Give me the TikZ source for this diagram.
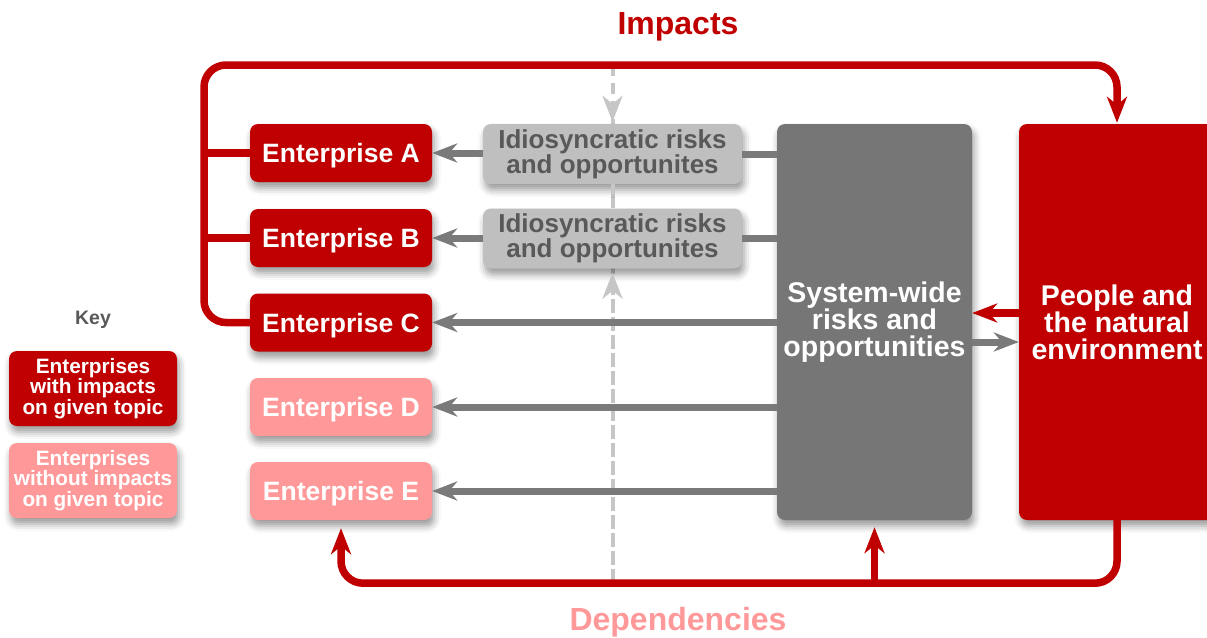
\documentclass[tikz,border=0pt]{standalone}
\usepackage{fontspec}
\setmainfont{Liberation Sans}
\usetikzlibrary{arrows.meta,shadows.blur,calc}
\definecolor{dred}{HTML}{C00000}
\definecolor{pinkc}{HTML}{FF9999}
\definecolor{sysgray}{HTML}{767676}
\definecolor{idgray}{HTML}{BFBFBF}
\definecolor{idtext}{HTML}{595959}
\definecolor{arrgray}{HTML}{7A7A7A}
\definecolor{dashgray}{HTML}{C6C6C6}
\begin{document}
\begin{tikzpicture}[x=1pt,y=-1pt,
  box/.style={rounded corners=8pt, inner sep=0pt, align=center, text=white,
    font=\bfseries\fontsize{28.5}{26.5}\selectfont,
    blur shadow={shadow xshift=2pt, shadow yshift=-6pt, shadow blur radius=7pt, shadow opacity=40}},
  ent/.style={box, minimum width=182pt, minimum height=58pt, text height=19pt, text depth=0pt,
    font=\bfseries\fontsize{26.5}{25}\selectfont},
  idio/.style={box, fill=idgray, text=idtext, minimum width=259pt, minimum height=60pt,
    font=\bfseries\fontsize{26}{25}\selectfont},
  keybox/.style={box, minimum width=168pt, minimum height=75pt, font=\bfseries\fontsize{20.8}{17.5}\selectfont},
  tipr/.style={-{Stealth[length=25pt,width=19pt,inset=8pt]}},
  tipd/.style={-{Stealth[length=26pt,width=20pt,inset=8pt]}},
  rline/.style={draw=dred, line width=7.5pt},
  gline/.style={draw=arrgray, line width=7pt},
  dline/.style={draw=dashgray, line width=4pt, dash pattern=on 11pt off 7pt},
]
\useasboundingbox (0,0) rectangle (1207,637);

% titles and key
\node[font=\bfseries\fontsize{32}{32}\selectfont, text=dred] (imp) at (678,27) {Impacts};
\node[font=\bfseries\fontsize{32}{32}\selectfont, text=pinkc] (dep) at (678,622) {Dependencies};
\node[font=\bfseries\fontsize{19.5}{19.5}\selectfont, text=idtext] (key) at (93,320) {Key};
\node[keybox, fill=dred] (k1) at (93,388.5) {Enterprises\\with impacts\\on given topic};
\node[keybox, fill=pinkc] (k2) at (93,480.5) {Enterprises\\without impacts\\on given topic};

% helper coordinates for the loop lines
\coordinate (tl) at (204,65);
\coordinate (bl) at (0,583);

% dashed separator (drawn under the boxes)
\draw[dline] (612.5,65) -- (612.5,583);

% main boxes
\node[ent, fill=dred] (A) at (341,153) {Enterprise A};
\node[ent, fill=dred] (B) at (341,238) {Enterprise B};
\node[ent, fill=dred] (C) at (341,322.5) {Enterprise C};
\node[ent, fill=pinkc] (D) at (341,407) {Enterprise D};
\node[ent, fill=pinkc] (E) at (341,491) {Enterprise E};
\node[idio] (I1) at (612.5,154) {Idiosyncratic risks\\and opportunites};
\node[idio] (I2) at (612.5,238.5) {Idiosyncratic risks\\and opportunites};
\node[box, fill=sysgray, minimum width=195pt, minimum height=396pt] (S) at (874.5,322) {System-wide\\risks and\\opportunities};
\node[box, fill=dred, minimum width=196pt, minimum height=396pt] (P) at (1117,322) {People and\\the natural\\environment};

% dashed arrows onto the idiosyncratic boxes
\draw[dline, tipd] (I1.north |- tl) -- ([yshift=2pt]I1.north);
\draw[dline, tipd] (I2.south |- bl) -- ([yshift=-4pt]I2.south);
\draw[dline] (I1.south) -- (I2.north);

% impacts loop
\draw[rline, tipd, rounded corners=22pt] (C.west) -| (tl) -| ([yshift=1pt]P.north);
\draw[rline] (A.west) -- (A.west -| tl);
\draw[rline] (B.west) -- (B.west -| tl);

% dependencies loop
\draw[rline, tipd, rounded corners=22pt] (P.south) |- ($(E.south)+(0,63)$) -- ($(E.south)+(0,8)$);
\draw[rline, tipd] (S.south |- bl) -- ([yshift=-7pt]S.south);

% system-wide flows to enterprises
\draw[gline] (S.west |- I1.east) -- (I1.east);
\draw[gline] (S.west |- I2.east) -- (I2.east);
\draw[gline, tipr] (I1.west |- A.east) -- (A.east);
\draw[gline, tipr] (I2.west |- B.east) -- (B.east);
\draw[gline, tipr] (S.west |- C.east) -- (C.east);
\draw[gline, tipr] (S.west |- D.east) -- (D.east);
\draw[gline, tipr] (S.west |- E.east) -- (E.east);

% exchange between the system and people/environment
\draw[rline, tipr] (P.west |- 0,313) -- (S.east |- 0,313);
\draw[gline, tipr] (S.east |- 0,342) -- (P.west |- 0,342);
\end{tikzpicture}
\end{document}
